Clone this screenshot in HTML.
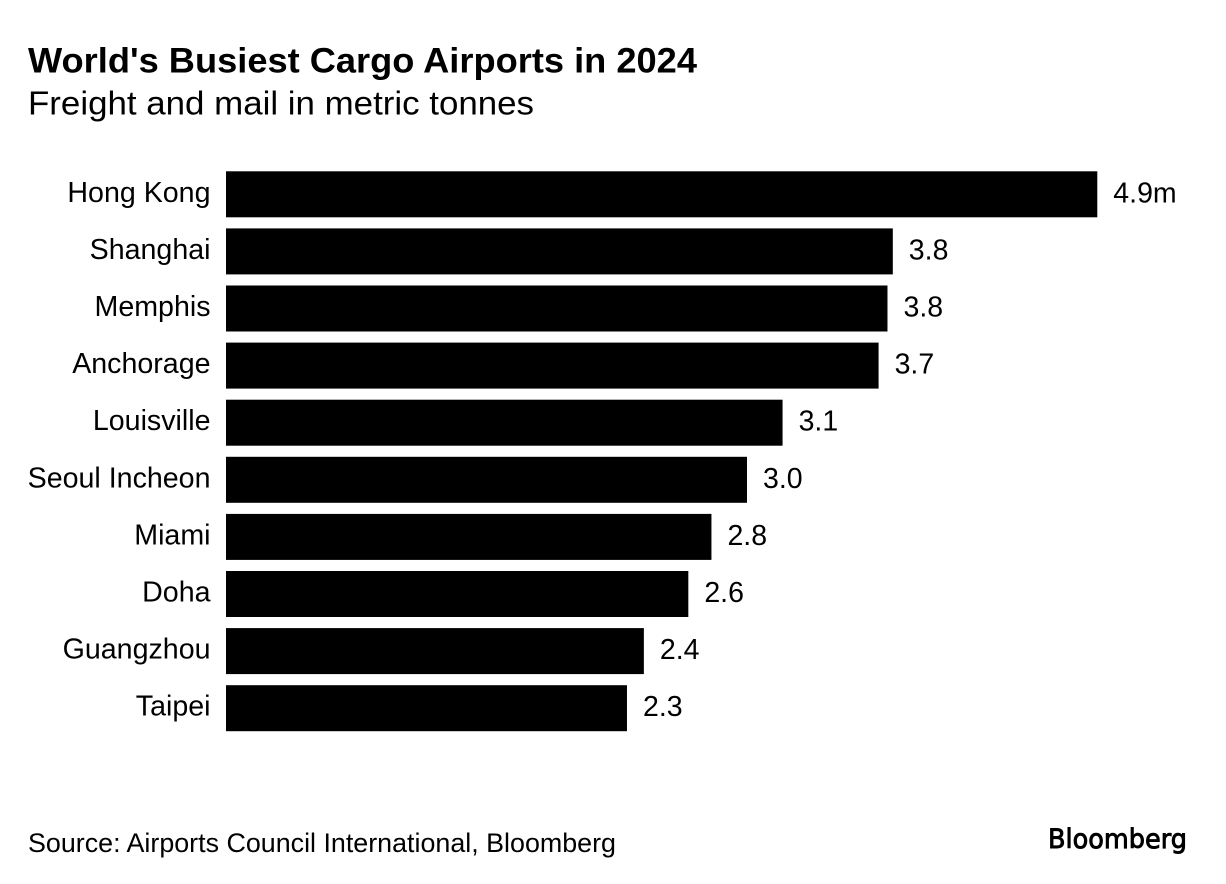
<!DOCTYPE html>
<html lang="en">
<head>
<meta charset="utf-8">
<title>World's Busiest Cargo Airports in 2024</title>
<style>
html,body{margin:0;padding:0;background:#fff;}
body{width:1226px;height:884px;overflow:hidden;}
svg{display:block;}
text{font-family:"Liberation Sans",sans-serif;fill:#000;}
</style>
</head>
<body>
<svg id="chart" width="1226" height="884" viewBox="0 0 1226 884">
  <text x="28" y="72.5" font-size="35.5" font-weight="700" textLength="669" lengthAdjust="spacingAndGlyphs">World's Busiest Cargo Airports in 2024</text>
  <text x="28" y="114.5" font-size="33" textLength="506" lengthAdjust="spacingAndGlyphs">Freight and mail in metric tonnes</text>
  <g id="bars"></g>
  <text x="28" y="852" font-size="26.5" textLength="588" lengthAdjust="spacingAndGlyphs">Source: Airports Council International, Bloomberg</text>
  <text x="1048" y="848" font-size="27" textLength="139" lengthAdjust="spacingAndGlyphs" stroke="#000" stroke-width="0.9" style="font-family:'DejaVu Sans',sans-serif">Bloomberg</text>
</svg>
<script>
const categories = ["Hong Kong","Shanghai","Memphis","Anchorage","Louisville","Seoul Incheon","Miami","Doha","Guangzhou","Taipei"];
const values = [4.9,3.75,3.72,3.67,3.13,2.93,2.73,2.6,2.35,2.255];
const valueLabels = ["4.9m","3.8","3.8","3.7","3.1","3.0","2.8","2.6","2.4","2.3"];

const NS = "http://www.w3.org/2000/svg";
const plotLeft = 226;
const plotTop = 171.3;
const pxPerUnit = 871.3 / 4.9;
const bandStep = 57.1;
const barHeight = 46;
const xScale = v => plotLeft + v * pxPerUnit;
const yScale = i => plotTop + i * bandStep;
const group = document.getElementById("bars");

categories.forEach((name, i) => {
  const y = yScale(i);
  const xEnd = xScale(values[i]);

  const label = document.createElementNS(NS, "text");
  label.setAttribute("x", plotLeft - 15.5);
  label.setAttribute("y", y + 30.5);
  label.setAttribute("text-anchor", "end");
  label.setAttribute("font-size", "28.6");
  
  
  label.textContent = name;
  group.appendChild(label);

  const bar = document.createElementNS(NS, "rect");
  bar.setAttribute("x", plotLeft);
  bar.setAttribute("y", y);
  bar.setAttribute("width", xEnd - plotLeft);
  bar.setAttribute("height", barHeight);
  bar.setAttribute("fill", "#000");
  
  
  group.appendChild(bar);

  const val = document.createElementNS(NS, "text");
  val.setAttribute("x", xEnd + 16);
  val.setAttribute("y", y + 31);
  val.setAttribute("font-size", "28.5");
  
  
  val.textContent = valueLabels[i];
  group.appendChild(val);
});
</script>
</body>
</html>
